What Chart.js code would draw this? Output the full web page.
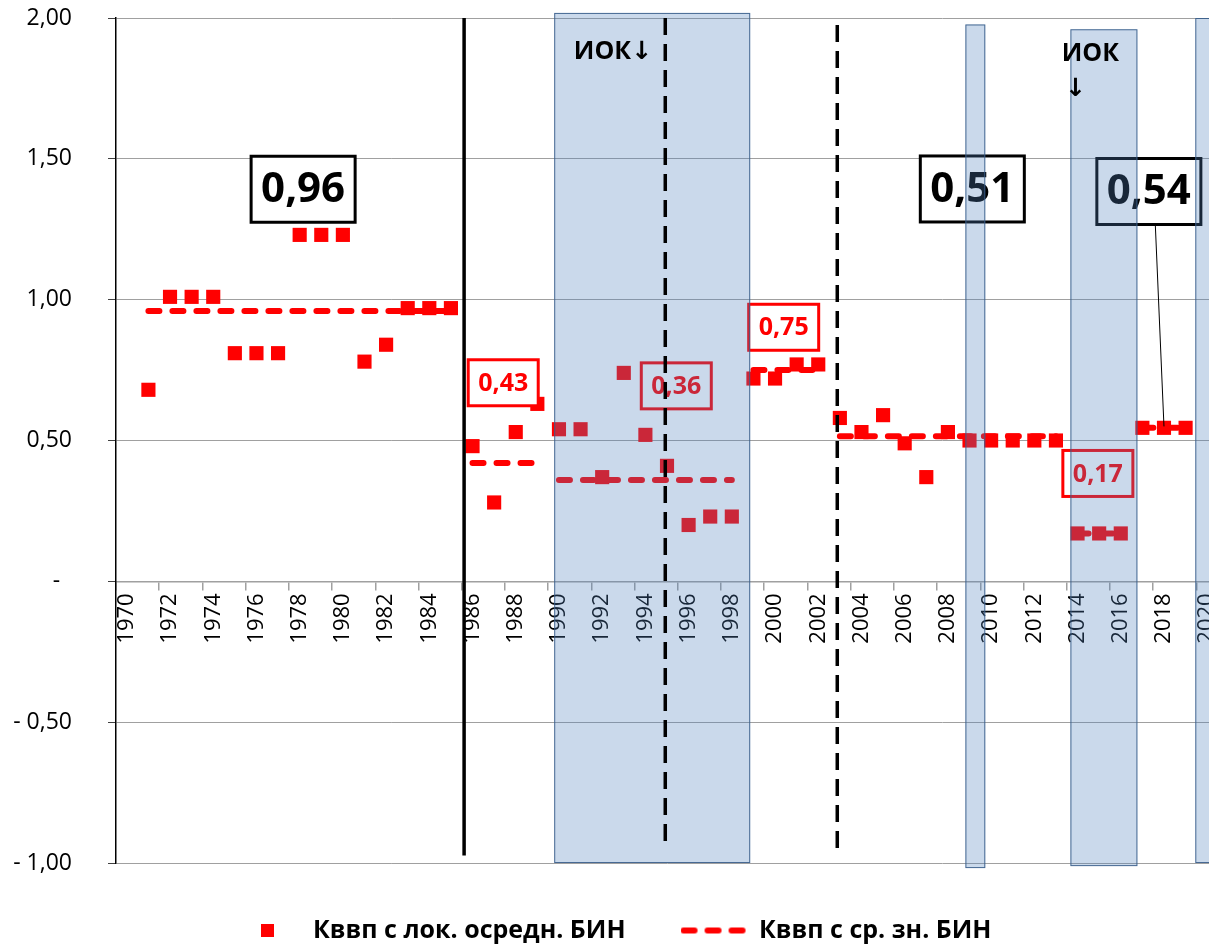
<!DOCTYPE html>
<html>
<head>
<meta charset="utf-8">
<title>Кввп</title>
<script src="https://cdn.jsdelivr.net/npm/chart.js@4.4.1/dist/chart.umd.min.js"></script>
<style>
    html, body { margin: 0; padding: 0; background: #fff; overflow: hidden; }
    #wrap { width: 1228px; height: 946px; }
</style>
</head>
<body>
<div id="wrap"><canvas id="chart" width="1228" height="946"></canvas></div>
<script>
// Years on the category axis
const years = [
    '1970', '1971', '1972', '1973', '1974', '1975', '1976', '1977', '1978', '1979',
    '1980', '1981', '1982', '1983', '1984', '1985', '1986', '1987', '1988', '1989',
    '1990', '1991', '1992', '1993', '1994', '1995', '1996', '1997', '1998', '1999',
    '2000', '2001', '2002', '2003', '2004', '2005', '2006', '2007', '2008', '2009',
    '2010', '2011', '2012', '2013', '2014', '2015', '2016', '2017', '2018', '2019',
    '2020'
];

// Кввп с лок. осредн. БИН (squares)
const localValues = [
    null, 0.68, 1.01, 1.01, 1.01, 0.81, 0.81, 0.81, 1.23, 1.23,
    1.23, 0.78, 0.84, 0.97, 0.97, 0.97, 0.48, 0.28, 0.53, 0.63,
    0.54, 0.54, 0.37, 0.74, 0.52, 0.41, 0.20, 0.23, 0.23, 0.72,
    0.72, 0.77, 0.77, 0.58, 0.53, 0.59, 0.49, 0.37, 0.53, 0.50,
    0.50, 0.50, 0.50, 0.50, 0.17, 0.17, 0.17, 0.545, 0.545, 0.545,
    null
];

// Кввп с ср. зн. БИН (dashed, one level per period)
const meanValues = [
    null, 0.96, 0.96, 0.96, 0.96, 0.96, 0.96, 0.96, 0.96, 0.96,
    0.96, 0.96, 0.96, 0.96, 0.96, 0.96, 0.42, 0.42, 0.42, 0.42,
    0.36, 0.36, 0.36, 0.36, 0.36, 0.36, 0.36, 0.36, 0.36, 0.75,
    0.75, 0.75, 0.75, 0.515, 0.515, 0.515, 0.515, 0.515, 0.515, 0.515,
    0.515, 0.515, 0.515, 0.515, 0.17, 0.17, 0.17, 0.545, 0.545, 0.545,
    null
];

// first year of each new averaging period (line is broken there)
const meanPeriodStarts = ['1986', '1990', '1999', '2003', '2014', '2017'];

const yTickLabels = ['- 1,00', '- 0,50', '-  ', '0,50', '1,00', '1,50', '2,00'];

// shaded periods (from year, to year, top, bottom)
const shadedPeriods = [
    { from: 1989.78, to: 1998.85, top: 2.018, bottom: -1.0 },
    { from: 2008.81, to: 2009.73, top: 1.977, bottom: -1.018 },
    { from: 2013.67, to: 2016.77, top: 1.96, bottom: -1.011 },
    { from: 2019.45, to: 2021.0, top: 2.0, bottom: -1.0 }
];

// vertical period separators
const periodLines = [
    { year: 1985.61, top: 2.0, bottom: -0.973, dashed: false },
    { year: 1994.92, top: 2.0, bottom: -0.948, dashed: true },
    { year: 2002.88, top: 1.975, bottom: -0.973, dashed: true }
];

// boxed mean labels
const meanNotes = [
    { text: '0,96', year: 1978.16, value: 1.392, big: true },
    { text: '0,43', year: 1987.42, value: 0.705, big: false },
    { text: '0,36', year: 1995.43, value: 0.694, big: false },
    { text: '0,75', year: 2000.40, value: 0.902, big: false },
    { text: '0,51', year: 2009.13, value: 1.393, big: true },
    { text: '0,54', year: 2017.3, value: 1.384, big: true },
    { text: '0,17', year: 2014.94, value: 0.383, big: false }
];

// plain text labels
const textNotes = [
    { text: 'ИОК↓', year: 1992.5, value: 1.878 },
    { text: 'ИОК', year: 2014.59, value: 1.874 },
    { text: '↓', year: 2013.9, value: 1.747 }
];

// leader line from the 0,54 box to its point
const leader = { fromYear: 2017.6, fromValue: 1.264, toYear: 2018, toValue: 0.55 };

// Legend icons
function makeSquareIcon() {
    const c = document.createElement('canvas');
    c.width = 13;
    c.height = 13;
    const g = c.getContext('2d');
    g.fillStyle = '#ff0000';
    g.fillRect(0, 0, 13, 13);
    return c;
}

function makeDashIcon() {
    const c = document.createElement('canvas');
    c.width = 66;
    c.height = 8;
    const g = c.getContext('2d');
    g.strokeStyle = '#ff0000';
    g.lineWidth = 6;
    g.lineCap = 'round';
    g.setLineDash([11, 13]);
    g.beginPath();
    g.moveTo(3, 4);
    g.lineTo(63, 4);
    g.stroke();
    return c;
}

// Annotation drawing
const notesPlugin = {
    id: 'notes',
    afterDatasetsDraw(chart) {
        const { ctx, scales: { x, y } } = chart;
        const px = yr => x.getPixelForValue(yr - 1970);
        ctx.save();

        ctx.beginPath();
        ctx.strokeStyle = '#000';
        ctx.lineWidth = 1;
        ctx.moveTo(px(leader.fromYear), y.getPixelForValue(leader.fromValue));
        ctx.lineTo(px(leader.toYear), y.getPixelForValue(leader.toValue));
        ctx.stroke();

        ctx.textAlign = 'center';
        ctx.textBaseline = 'middle';
        meanNotes.forEach(n => {
            const cx = px(n.year);
            const cy = y.getPixelForValue(n.value);
            const colour = n.big ? '#000' : '#ff0000';
            ctx.font = n.big ? 'bold 42px "Open Sans"' : 'bold 25px "Open Sans"';
            const w = ctx.measureText(n.text).width + 20;
            const h = n.big ? 66 : 46;
            ctx.fillStyle = '#fff';
            ctx.fillRect(cx - w / 2, cy - h / 2, w, h);
            ctx.strokeStyle = colour;
            ctx.lineWidth = 3;
            ctx.strokeRect(cx - w / 2, cy - h / 2, w, h);
            ctx.fillStyle = colour;
            ctx.fillText(n.text, cx, cy + 1);
        });
        ctx.restore();
    },
    afterDraw(chart) {
        const { ctx, scales: { x, y } } = chart;
        const px = yr => x.getPixelForValue(yr - 1970);
        ctx.save();
        shadedPeriods.forEach(p => {
            const x1 = px(p.from), x2 = px(p.to);
            const y1 = y.getPixelForValue(p.top), y2 = y.getPixelForValue(p.bottom);
            ctx.fillStyle = 'rgba(79, 129, 189, 0.3)';
            ctx.fillRect(x1, y1, x2 - x1, y2 - y1);
            ctx.strokeStyle = 'rgba(56, 93, 138, 0.9)';
            ctx.lineWidth = 1;
            ctx.strokeRect(x1 + 0.5, y1 + 0.5, x2 - x1 - 1, y2 - y1 - 1);
        });

        // separators and ИОК marks sit above the shading
        periodLines.forEach(l => {
            const lx = px(l.year);
            ctx.beginPath();
            ctx.strokeStyle = '#000';
            ctx.lineWidth = 3.5;
            ctx.setLineDash(l.dashed ? [17, 9] : []);
            ctx.moveTo(lx, y.getPixelForValue(l.top));
            ctx.lineTo(lx, y.getPixelForValue(l.bottom));
            ctx.stroke();
        });
        ctx.setLineDash([]);

        ctx.textAlign = 'center';
        ctx.textBaseline = 'middle';
        ctx.font = 'bold 25px "Open Sans", "DejaVu Sans"';
        ctx.fillStyle = '#000';
        textNotes.forEach(t => {
            ctx.fillText(t.text, px(t.year), y.getPixelForValue(t.value));
        });
        ctx.restore();
    }
};

const squareIcon = makeSquareIcon();
const dashIcon = makeDashIcon();

new Chart(document.getElementById('chart'), {
    type: 'line',
    data: {
        labels: years,
        datasets: [{
            label: 'Кввп с лок. осредн. БИН',
            data: localValues,
            showLine: false,
            pointStyle: 'rect',
            pointRadius: 10,
            pointHoverRadius: 10,
            pointBorderWidth: 0,
            pointBackgroundColor: '#ff0000',
            borderColor: '#ff0000',
            backgroundColor: '#ff0000'
        }, {
            label: 'Кввп с ср. зн. БИН',
            data: meanValues,
            borderColor: '#ff0000',
            backgroundColor: '#ff0000',
            borderWidth: 6,
            borderDash: [11, 13],
            borderCapStyle: 'round',
            pointRadius: 0,
            pointHoverRadius: 0,
            spanGaps: false,
            segment: {
                borderColor: ctx => meanPeriodStarts.includes(years[ctx.p1DataIndex]) ? 'rgba(0,0,0,0)' : '#ff0000'
            }
        }]
    },
    options: {
        responsive: false,
        animation: false,
        layout: { padding: { top: 18, left: 0, right: 2, bottom: -7 } },
        plugins: {
            tooltip: { enabled: false },
            legend: {
                position: 'bottom',
                labels: {
                    usePointStyle: true,
                    pointStyleWidth: 66,
                    padding: 55,
                    color: '#000',
                    font: { family: 'Open Sans', size: 25, weight: 'bold' },
                    generateLabels: chart => {
                        const items = Chart.defaults.plugins.legend.labels.generateLabels(chart);
                        items[0].pointStyle = squareIcon;
                        items[1].pointStyle = dashIcon;
                        return items;
                    }
                }
            }
        },
        scales: {
            x: {
                type: 'category',
                position: { y: 0 },
                offset: true,
                grid: {
                    offset: true,
                    drawOnChartArea: false,
                    tickLength: 8,
                    lineWidth: 1.5,
                    color: ctx => ctx.index % 2 === 0 ? '#a0a0a0' : 'rgba(0,0,0,0)'
                },
                border: { color: '#a0a0a0', width: 1.5 },
                ticks: {
                    autoSkip: false,
                    minRotation: 90,
                    maxRotation: 90,
                    padding: 4,
                    color: '#000',
                    font: { family: 'Open Sans', size: 22 },
                    callback: (v, i) => i % 2 === 0 ? years[i] : ''
                },
                afterFit: s => {
                    s.height = 0;
                    s.paddingLeft = 0;
                    s.paddingRight = 0;
                }
            },
            y: {
                min: -1,
                max: 2,
                ticks: {
                    stepSize: 0.5,
                    padding: 36,
                    color: '#000',
                    font: { family: 'Open Sans', size: 23 },
                    callback: (v, i) => yTickLabels[i]
                },
                grid: { color: '#a0a0a0', lineWidth: 1, tickLength: 8, tickColor: '#404040' },
                border: { color: '#000', width: 1.5 },
                afterFit: s => {
                    s.width = 116;
                    s.paddingTop = 0;
                    s.paddingBottom = 0;
                }
            }
        }
    },
    plugins: [notesPlugin]
});
</script>
</body>
</html>
